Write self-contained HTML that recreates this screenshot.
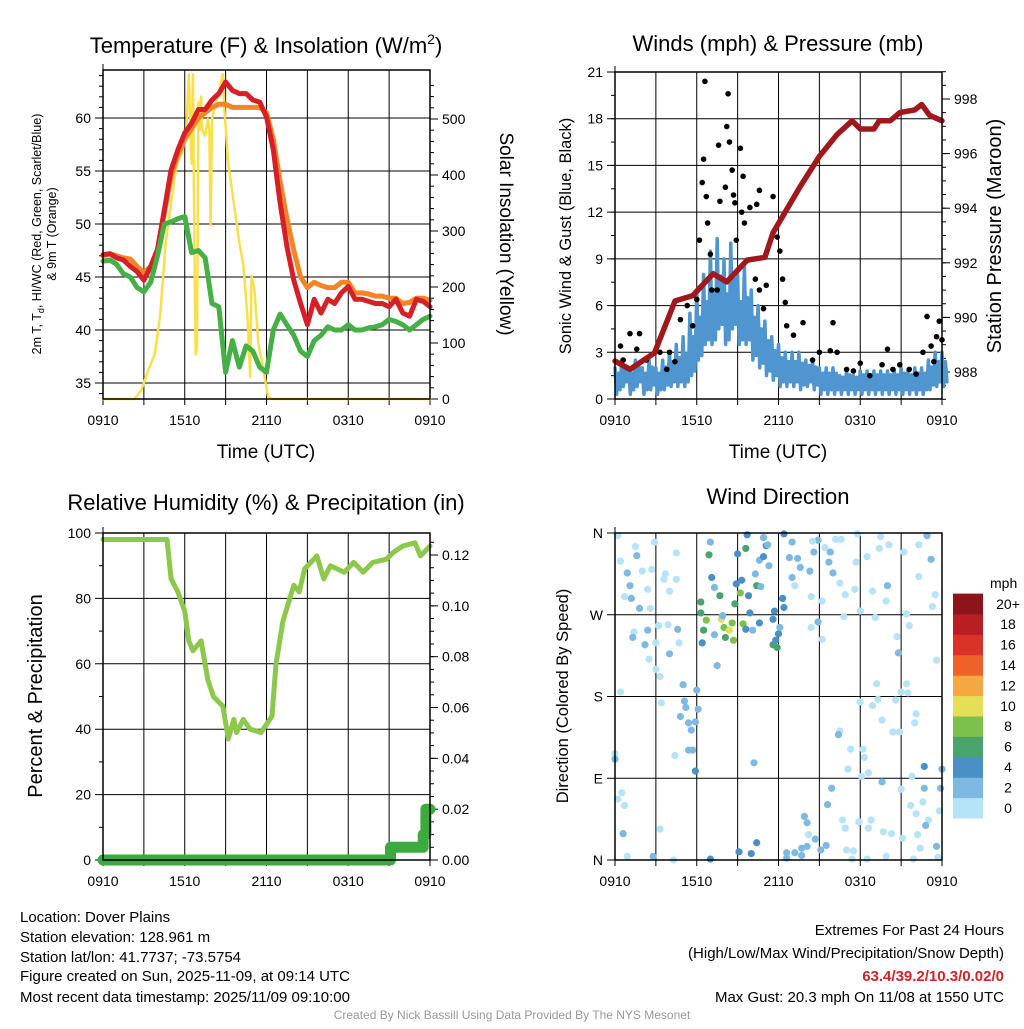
<!DOCTYPE html>
<html><head><meta charset="utf-8"><style>
body{margin:0;background:#fff;}
svg text{font-family:"Liberation Sans",sans-serif;}
</style></head><body>
<svg id="fig" width="1024" height="1024" viewBox="0 0 1024 1024" xmlns="http://www.w3.org/2000/svg">
<rect width="1024" height="1024" fill="#fff"/>
<text x="266" y="53" font-size="22" text-anchor="middle">Temperature (F) &amp; Insolation (W/m<tspan dy="-9" font-size="14">2</tspan><tspan dy="9">)</tspan></text>
<text x="778" y="51" font-size="22" text-anchor="middle">Winds (mph) &amp; Pressure (mb)</text>
<text x="266" y="510" font-size="22" text-anchor="middle">Relative Humidity (%) &amp; Precipitation (in)</text>
<text x="778" y="504" font-size="22" text-anchor="middle">Wind Direction</text>
<text x="266" y="458" font-size="19" text-anchor="middle">Time (UTC)</text>
<text x="778" y="458" font-size="19" text-anchor="middle">Time (UTC)</text>
<text transform="translate(41,234) rotate(-90)" font-size="12.5" text-anchor="middle">2m T, T<tspan font-size="9" dy="3">d</tspan><tspan dy="-3">, HI/WC (Red, Green, Scarlet/Blue)</tspan></text>
<text transform="translate(56,234) rotate(-90)" font-size="12.5" text-anchor="middle">&amp; 9m T (Orange)</text>
<text transform="translate(500,234) rotate(90)" font-size="19" text-anchor="middle">Solar Insolation (Yellow)</text>
<text transform="translate(571,236) rotate(-90)" font-size="16.5" text-anchor="middle">Sonic Wind &amp; Gust (Blue, Black)</text>
<text transform="translate(1001,236) rotate(-90)" font-size="20" text-anchor="middle">Station Pressure (Maroon)</text>
<text transform="translate(42,696) rotate(-90)" font-size="20" text-anchor="middle">Percent &amp; Precipitation</text>
<text transform="translate(568,696) rotate(-90)" font-size="16.5" text-anchor="middle">Direction (Colored By Speed)</text>
<g id="panels"></g>
<g font-size="15">
<text x="20" y="922">Location: Dover Plains</text>
<text x="20" y="942">Station elevation: 128.961 m</text>
<text x="20" y="962">Station lat/lon: 41.7737; -73.5754</text>
<text x="20" y="981">Figure created on Sun, 2025-11-09, at 09:14 UTC</text>
<text x="20" y="1002">Most recent data timestamp: 2025/11/09 09:10:00</text>
</g>
<g font-size="15" text-anchor="end">
<text x="1004" y="935">Extremes For Past 24 Hours</text>
<text x="1004" y="958">(High/Low/Max Wind/Precipitation/Snow Depth)</text>
<text x="1004" y="981" fill="#d2232a" font-weight="bold">63.4/39.2/10.3/0.02/0</text>
<text x="1004" y="1002">Max Gust: 20.3 mph On 11/08 at 1550 UTC</text>
</g>
<text x="512" y="1019" font-size="12" fill="#999" text-anchor="middle">Created By Nick Bassill Using Data Provided By The NYS Mesonet</text>
</svg>
<script>
const timeTicks=[0,6,12,18,24];
const timeLabels=["0910","1510","2110","0310","0910"];
// half-hourly series (49 values, 0..24 h)
const tempRed=[47.1,47.2,46.8,46.6,46,45.5,44.7,46,47.6,51.3,55.1,57,58.6,59.5,60.8,60.8,61.7,62.3,63.4,62.6,62.3,62.3,61.7,61.5,60.1,57,52,47.9,44.7,42.5,40.5,42.9,41.6,42.9,42.5,43.5,44.1,42.9,42.9,42.7,42.5,42.5,42.2,42.9,41.6,41.3,42.9,42.7,42.2];
const tempOrange=[47,47.2,47,46.8,46.7,46,45.4,46,47.4,51,54.5,56.5,58,59,60,60.5,61,61.3,61.3,61,61,61,61,61,60.5,58,54,50.5,47.5,45,44,44.5,44.2,44,44,44.5,44.5,43.5,43.5,43.4,43.2,43.2,43,43,42.5,42.6,43,43,42.8];
const dewGreen=[46.5,46.6,46.2,45.3,45,44,43.6,44.5,47,50,50.2,50.5,50.7,47.3,47.5,46.8,42.5,42.2,36,39,36.5,38.5,38,36.5,36,40,41.5,40.5,39.5,38,37.5,39,39.5,40.3,40,40,40.5,40,40,40.2,40.3,40.5,41,40.8,40.5,40,40.5,41,41.3];
const solarHour=[0,2.3,2.8,3.3,3.8,4.2,4.6,5.0,5.4,5.8,6.1,6.3,6.5,6.6,6.7,6.8,6.9,7.0,7.1,7.2,7.3,7.5,7.7,7.8,7.9,8.0,8.3,8.6,8.8,8.9,9.2,9.6,10.0,10.3,10.6,10.8,10.9,11.1,11.4,11.8,12.1,12.4,24];
const solarW=[0,0,15,50,80,150,280,350,420,440,470,580,420,580,300,80,90,530,480,540,480,470,500,480,310,500,530,560,580,520,420,350,280,240,150,40,220,200,100,50,5,0,0];
const windHi=[2,2.5,2,2.5,2,2.5,2,2.5,3,3.5,4,5.5,7,8,9.5,10.3,9,10,8,8.5,7,6,5,4,3.5,3,3,3,2.5,2.5,2,2,2,1.5,1.8,1.5,1.8,1.8,1.8,1.8,1.8,1.8,2,1.8,2,2,2.5,3,3];
const windLo=[0.3,0.8,0.3,0.8,0.3,0.6,0.3,0.6,0.8,0.8,0.8,1.5,2.5,3.5,3.5,4.5,3.5,4.5,3.5,3.5,2.5,2,1.5,1.2,0.8,0.8,0.8,0.6,0.8,0.6,0.3,0.3,0.3,0.3,0.3,0.3,0.3,0.3,0.3,0.3,0.3,0.3,0.3,0.3,0.3,0.3,0.6,0.8,0.8];
const gustHour=[0.4,1.1,1.8,1.6,3.3,4.0,4.8,5.3,5.7,6.0,6.2,6.4,6.5,6.6,6.7,6.8,7.0,7.6,7.7,8.1,8.2,8.3,8.4,8.6,8.7,8.8,8.9,9.2,9.4,9.3,9.5,9.9,10.4,10.6,11.6,11.9,12.1,12.3,12.5,10.6,11.1,10.3,10.9,12.6,13.1,13.8,14.5,15,15.8,16,16.3,17,17.5,18,18.7,19.6,20,20.4,20.9,21.6,22.1,22.6,22.9,23.2,23.6,23.8,24,23.4,0.6,2.3,3.8,4.4,7.1,7.5];
const gustMph=[3.4,4.2,4.2,3.2,3.0,3.0,5.1,6.0,4.7,6.4,10.2,13.9,15.4,20.4,13,11.3,9.3,16.3,12.7,13.6,17.5,19.6,16.5,14.7,13.1,12.6,10.2,16.1,14.3,12,11.3,12.3,12.5,13.4,13,10.4,9.5,7.7,6.2,7,7.3,7.7,5.8,4.7,4.1,4.9,2.5,3.0,3.1,4.9,3.0,1.9,1.8,2.3,1.5,2.2,3.2,1.9,2.2,1.9,1.6,3.0,5.3,3.4,4.0,5.0,3.8,2.4,2.5,2.5,1.9,2.4,7.0,7.0];
const presHour=[0,1.1,2.9,4.4,5.7,7.2,8.2,9.7,11,11.6,13.6,15,16.3,17.4,18,19,19.4,20.2,20.9,22,22.5,23.1,24];
const presMb=[988.4,988.1,988.7,990.6,990.8,991.6,991.3,992.1,992.2,993.1,994.8,995.9,996.7,997.2,996.9,996.9,997.2,997.2,997.5,997.6,997.8,997.4,997.2];
const rhHour=[0,4.7,5,5.5,6,6.3,6.6,7.2,7.7,8.1,8.8,9.2,9.6,9.8,10.3,10.8,11.6,12.4,12.7,13.2,14,14.4,14.8,15.7,16.2,16.7,17.7,18.4,19.1,19.8,20.8,21.3,22,22.9,23.3,24];
const rhPct=[98,98,86,82,76,67,64,67,55,50,47,37,43,39,43,40,39,44,60,73,84,82,89,93,86,90,88,91,88,91,92,94,96,97,93,96];
const precipHour=[0,21.05,21.1,23.3,23.5,23.7,24];
const precipIn=[0,0,0.005,0.005,0.01,0.02,0.02];
// wind direction observations: [hour, degrees, mph]
const dirObs=[[0.2,357,1],[1.5,345,1],[2.9,350,1],[0.4,329,1],[1.6,335,2],[0.9,316,2],[1.1,302,2],[2.0,318,1],[2.7,320,1],[2.4,298,1],[0.7,290,1],[1.2,288,3],[1.8,277,2],[2.6,277,1],[1.4,251,1],[1.3,245,2],[2.4,253,2],[2.2,237,3],[2.5,221,1],[3.0,239,1],[3.2,258,1],[3.0,210,1],[3.3,202,1],[0.4,185,1],[3.4,173,1],[0,117,1],[0,111,3],[0.5,74,1],[0.2,67,1],[0.7,60,1],[0.6,29,3],[0.9,4,1],[2.8,4,2],[4.3,0,1],[3.3,34,1],[4.4,115,1],[3.6,309,1],[3.7,315,1],[4.0,296,1],[4.5,309,1],[4.5,338,1],[3.9,259,1],[4.6,254,2],[4.7,239,1],[4.0,227,3],
[5.0,193,3],[5.1,175,2],[5.2,168,2],[4.8,158,2],[5.4,151,2],[5.6,143,2],[5.9,152,2],[6.0,187,3],[6.1,166,3],[5.4,121,2],[5.7,121,2],[5.9,98,4],[6.9,336,6],[7.0,350,2],[7.1,311,4],[7.3,300,2],[7.7,291,6],[6.3,284,6],[6.3,272,6],[6.7,264,8],[6.5,253,6],[6.4,239,4],[7.3,248,3],[7.5,214,3],[7.8,265,10],[7.9,269,3],[8.0,256,8],[8.4,253,10],[8.6,261,8],[8.1,245,6],[8.7,242,8],[8.8,282,6],[9.0,337,4],[8.9,304,4],[9.3,308,4],[9.2,294,8],[9.4,260,8],[9.6,254,4],[9.6,343,6],[9.7,358,4],[9.8,291,4],[9.9,272,4],[10.1,253,2],[10.3,315,2],[10.4,302,6],[10.6,330,2],[10.6,261,4],[10.7,301,2],[10.9,334,4],[10.9,355,2],[11.1,346,4],[11.2,347,2],[11.3,324,2],[11.6,265,4],[11.7,274,4],[11.6,237,6],[11.9,234,6],[12.0,249,4],[11.8,242,4],[12.1,256,3],[12.3,288,4],[12.4,278,4],[10.2,107,2],[7.0,1,4],[9.1,9,4],[10.0,7,4],[10.4,19,4],
[12.4,359,4],[13.0,350,2],[12.8,333,2],[13.4,332,2],[13.0,311,2],[13.6,322,2],[13.2,302,1],[14.3,318,3],[14.4,290,1],[14.9,352,3],[14.5,351,1],[14.6,339,2],[15.4,344,1],[15.8,339,3],[15.7,328,3],[16.0,316,3],[16.5,305,1],[16.2,353,1],[16.6,353,1],[16.9,292,1],[17.6,298,1],[17.7,328,1],[17.8,359,1],[18.5,334,1],[15.2,285,1],[14.9,262,3],[14.4,256,1],[15.2,243,1],[16.8,268,1],[18.0,274,1],[19.1,267,1],[19.4,343,1],[19.5,356,1],[20.1,347,1],[20.0,302,2],[19.9,285,1],[18.9,296,1],[21.2,339,1],[22.3,312,1],[22.3,347,1],[22.9,357,2],[23.2,331,3],[23.5,292,1],[23.3,279,1],[21.4,271,1],[21.6,258,1],[20.7,246,1],[20.8,228,3],[23.6,220,1],[21.4,194,1],[21.0,185,1],[21.5,184,1],[20.6,176,1],[22.1,161,1],[22.0,151,1],[19.3,177,1],[19.2,194,1],[18.9,170,1],[19.6,154,1],[20.4,141,1],[20.9,141,1],[18.0,174,1],[16.5,142,1],[16.4,138,3],[17.3,122,1],[18.2,122,1],[18.3,113,1],[17.1,100,1],[18.1,92,1],[18.6,96,1],[19.6,86,3],[21.0,78,1],[21.8,92,1],[22.7,103,4],[24.0,100,3],[23.9,79,3],[22.7,79,3],[23.8,54,1],[22.6,64,1],[21.7,60,1],[22.1,51,1],[23.0,44,1],[22.8,38,3],[22.2,28,1],[21.1,24,1],[20.3,29,1],[19.7,31,1],[18.8,44,1],[18.6,35,1],[17.9,42,1],[16.7,44,1],[16.9,35,1],[15.9,79,3],[15.6,61,3],[13.9,48,3],[14.1,41,3],[14.2,28,1],[14.7,23,3],[15.5,16,3],[15.1,11,3],[14.1,15,3],[13.7,13,3],[13.2,8,3],[12.6,8,3],[12.6,2,3],[13.7,5,3],[17.0,11,1],[17.5,10,1],[17.4,1,1],[18.5,1,1],[19.9,4,1],[21.9,1,1],[22.4,13,1],[23.6,15,3],[23.7,3,1]];
const speedBins=["0","2","4","6","8","10","12","14","16","18","20+"];
const speedColors=["#b5e3f7","#7eb9e3","#4a8fc5","#48a46c","#7bc14b","#e6df55","#f5a742","#ee6228","#da3128","#bb1d24","#8d1519"];
const dirLabels=["N","E","S","W","N"];

const NS="http://www.w3.org/2000/svg";
const root=document.getElementById('panels');
function mk(tag,attrs,parent){const e=document.createElementNS(NS,tag);for(const k in attrs)e.setAttribute(k,attrs[k]);(parent||root).appendChild(e);return e;}
function lin(d0,d1,r0,r1){return v=>r0+(v-d0)*(r1-r0)/(d1-d0);}
function pathOf(xs,ys,fx,fy){return xs.map((x,i)=>(i?'L':'M')+fx(x).toFixed(1)+','+fy(ys[i]).toFixed(1)).join('');}
function halfHours(n){return Array.from({length:n},(_,i)=>i*0.5);}

function frame(g,L,R,T,B,fx,yTicks,fy,yLabels,rTicks,fr,rLabels,minorL,minorR){
  for(let h=0;h<=24;h+=3){const x=fx(h);const l=mk('line',{x1:x,y1:T,x2:x,y2:B+6,stroke:'#000','stroke-width':1},g);
    }
  mk('line',{x1:L,y1:T-6,x2:L,y2:T,stroke:'#000'},g);
  yTicks.forEach((v,i)=>{const y=fy(v);const l=mk('line',{x1:L-8,y1:y,x2:R,y2:y,stroke:'#000','stroke-width':1},g);
    
    const t=mk('text',{x:L-12,y:y+5,'font-size':14,'text-anchor':'end'},g);t.textContent=yLabels[i];
    });
  (minorL||[]).forEach(v=>mk('line',{x1:L-4,y1:fy(v),x2:L,y2:fy(v),stroke:'#000'},g));
  if(rTicks){rTicks.forEach((v,i)=>{const y=fr(v);mk('line',{x1:R,y1:y,x2:R+8,y2:y,stroke:'#000'},g);
    const t=mk('text',{x:R+12,y:y+5,'font-size':14},g);t.textContent=rLabels[i];
    });
    (minorR||[]).forEach(v=>mk('line',{x1:R,y1:fr(v),x2:R+4,y2:fr(v),stroke:'#000'},g));}
  timeTicks.forEach((h,i)=>{const t=mk('text',{x:fx(h),y:B+26,'font-size':14,'text-anchor':'middle'},g);t.textContent=timeLabels[i];
    });
}
function border(g,L,R,T,B){const r=mk('rect',{x:L,y:T,width:R-L,height:B-T,fill:'none',stroke:'#000','stroke-width':1.5},g);
  }
function series(g,d,color,w,name){const p=mk('path',{d:d,fill:'none',stroke:color,'stroke-width':w,'stroke-linejoin':'round','stroke-linecap':'round'},g);
  return p;}

// Panel 1
{const g=mk('g',{});
 const L=103,R=430,T=70,B=399;const fx=lin(0,24,L,R),fy=lin(35,60,383,118),fr=lin(0,500,399,119);
 const tv=[35,40,45,50,55,60];const minors=[];for(let v=34;v<=64;v++)minors.push(v);
 const rm=[];for(let v=0;v<=570;v+=20)rm.push(v);
 frame(g,L,R,T,B,fx,tv,fy,tv.map(String),[0,100,200,300,400,500],fr,["0","100","200","300","400","500"],minors,rm);
 const hh=halfHours(tempRed.length);
 series(g,pathOf(solarHour,solarW,fx,fr),'#f9e04b',2.5,'solar-insolation-line');
 series(g,pathOf(hh,tempOrange,fx,fy),'#f58426',5,'temp-9m-line');
 series(g,pathOf(hh,tempRed,fx,fy),'#d42026',5,'temp-2m-line');
 series(g,pathOf(hh,dewGreen,fx,fy),'#44b045',5,'dewpoint-line');
 border(g,L,R,T,B);}

// Panel 2
{const g=mk('g',{});
 const L=615,R=942,T=72,B=399;const fx=lin(0,24,L,R),fy=lin(0,21,399,72),fr=lin(988,998,372,99);
 const tv=[0,3,6,9,12,15,18,21];const minors=[];for(let v=0;v<=21;v+=1.5)minors.push(v);
 const rm=[];for(let v=987;v<=999;v+=0.5)rm.push(v);
 frame(g,L,R,T,B,fx,tv,fy,tv.map(String),[988,990,992,994,996,998],fr,["988","990","992","994","996","998"],minors,rm);
 const hq=[],wq=[];windHi.forEach((v,i)=>{hq.push(i*0.5,i*0.5+0.12,i*0.5+0.25,i*0.5+0.37);wq.push(v,windLo[i],(v+windLo[i])/2+0.5,windLo[i]+0.3);});
 series(g,pathOf(hq,wq,fx,fy),'#4f95cf',3.5,'sonic-wind-line');
 gustHour.forEach((h,i)=>{const c=mk('circle',{cx:fx(h),cy:fy(gustMph[i]),r:2.8,fill:'#000'},g);
   });
 series(g,pathOf(presHour,presMb,fx,fr),'#a0181c',5.5,'pressure-line');
 border(g,L,R,T,B);}

// Panel 3
{const g=mk('g',{});
 const L=103,R=430,T=533,B=860;const fx=lin(0,24,L,R),fy=lin(0,100,860,533),fr=lin(0,0.12,860,555);
 const tv=[0,20,40,60,80,100];const minors=[10,30,50,70,90];
 const rm=[];for(let v=0;v<=0.13;v+=0.005)rm.push(v);
 frame(g,L,R,T,B,fx,tv,fy,tv.map(String),[0,0.02,0.04,0.06,0.08,0.1,0.12],fr,["0.00","0.02","0.04","0.06","0.08","0.10","0.12"],minors,rm);
 series(g,pathOf(rhHour,rhPct,fx,fy),'#8cc84b',5,'rh-line');
 const ph=[],pv=[];precipHour.forEach((h,i)=>{if(i>0){ph.push(h);pv.push(precipIn[i-1]);}ph.push(h);pv.push(precipIn[i]);});
 series(g,pathOf(ph,pv,fx,fr),'#3daa3f',11,'precip-line');
 border(g,L,R,T,B);}

// Panel 4
{const g=mk('g',{});
 const L=615,R=942,T=533,B=860;const fx=lin(0,24,L,R),fy=lin(0,360,860,533);
 frame(g,L,R,T,B,fx,[0,90,180,270,360],fy,dirLabels,null,null,null);
 dirObs.forEach(o=>{const b=Math.min(10,Math.floor(o[2]/2));const c=mk('circle',{cx:fx(o[0]),cy:fy(o[1]),r:3.6,fill:speedColors[b]},g);
   });
 border(g,L,R,T,B);
 const lg=mk('g',{});
 const t=mk('text',{x:990,y:588,'font-size':14},lg);t.textContent='mph';
 const h=20.4;speedColors.forEach((col,i)=>{const y=818-(i+1)*h;
   const r=mk('rect',{x:953,y:y,width:30,height:h+0.5,fill:col},lg);
   
   const tx=mk('text',{x:1008,y:y+h/2+5,'font-size':14,'text-anchor':'middle'},lg);tx.textContent=speedBins[i];
   });
}
</script>
</body></html>
